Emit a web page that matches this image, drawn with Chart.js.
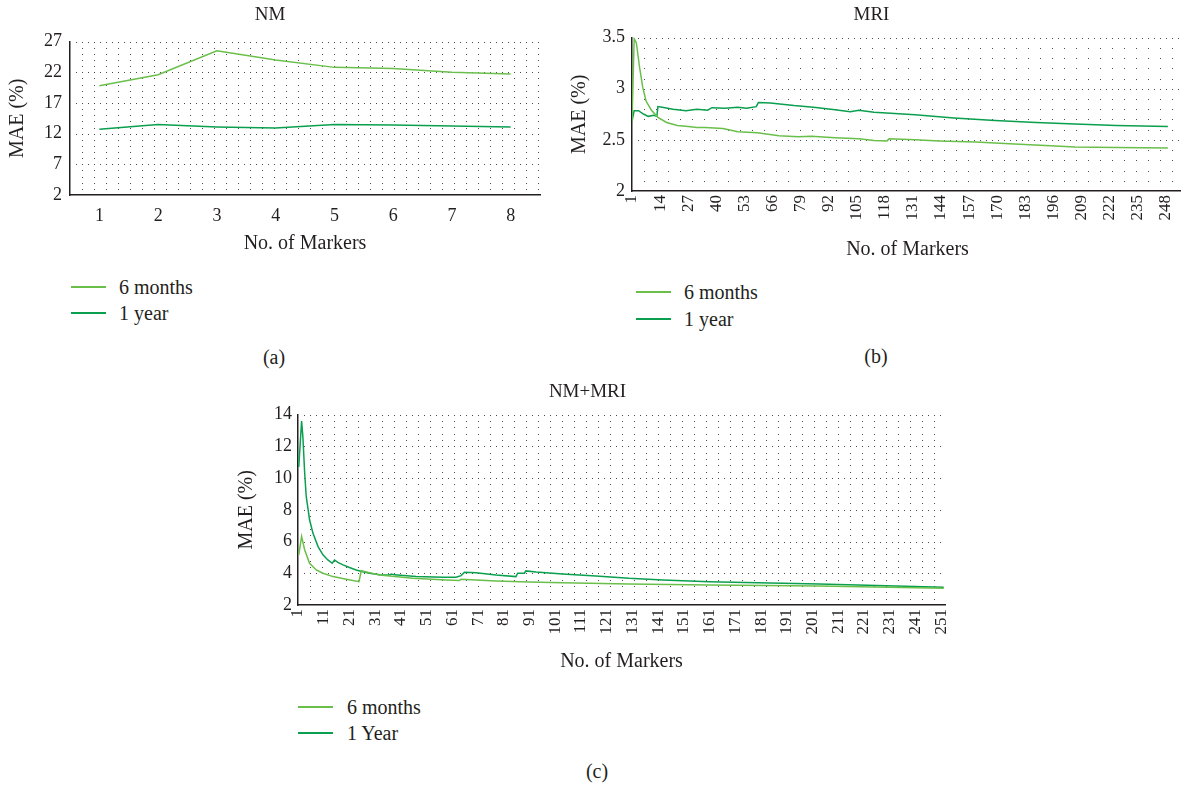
<!DOCTYPE html>
<html>
<head>
<meta charset="utf-8">
<script src="https://cdn.jsdelivr.net/npm/chart.js@4"></script>
<style>
  html, body { margin: 0; padding: 0; overflow: hidden; background: #fff; }
  body { width: 1181px; height: 786px; position: relative; font-family: "Liberation Serif", "DejaVu Serif", serif; color: #231f20; }
  canvas { position: absolute; }
  .leg { position: absolute; font-size: 20px; line-height: 20px; }
  .leg .row { position: absolute; white-space: nowrap; }
  .leg .sw { position: absolute; height: 1.5px; width: 35px; }
  .cap { position: absolute; font-size: 20px; line-height: 20px; transform: translateX(-50%); }
</style>
</head>
<body>
<canvas id="nmChart" width="574" height="260" style="left:0;top:0"></canvas>
<canvas id="mriChart" width="648" height="266" style="left:560px;top:0"></canvas>
<canvas id="bothChart" width="784" height="298" style="left:230px;top:380px"></canvas>
<div class="cap" style="left:274px;top:347px">(a)</div>
<div class="cap" style="left:876px;top:346px">(b)</div>
<div class="cap" style="left:597px;top:761px">(c)</div>
<script>
// * data NM
const nmLabels = ["1", "2", "3", "4", "5", "6", "7", "8"];
const nm6m = [19.8, 21.6, 25.5, 24.0, 22.8, 22.6, 22.0, 21.7];
const nm1y = [12.7, 13.5, 13.1, 12.9, 13.5, 13.4, 13.25, 13.1];

// * data MRI
const mriTicks = [1, 14, 27, 40, 53, 66, 79, 92, 105, 118, 131, 144, 157, 170, 183, 196, 209, 222, 235, 248];
const mri6mX = [1, 2, 3, 4.5, 6, 7.5, 10, 13, 17, 22, 27, 31, 35, 43, 50, 59, 69, 78, 84, 95, 106, 113, 119, 120, 132, 143, 160, 178, 197, 206, 225, 249];
const mri6mY = [2.68, 3.49, 3.45, 3.21, 3.01, 2.88, 2.79, 2.72, 2.67, 2.64, 2.63, 2.62, 2.62, 2.61, 2.58, 2.57, 2.54, 2.53, 2.535, 2.52, 2.51, 2.495, 2.49, 2.51, 2.50, 2.49, 2.48, 2.46, 2.44, 2.43, 2.425, 2.42];
const mri1yX = [1, 2, 4, 6.5, 8.5, 11, 12.5, 13, 15, 20, 26, 31, 36, 38, 44, 50, 54, 58.5, 59.5, 65, 76, 85, 95, 102, 106, 113, 132, 150, 169, 188, 206, 225, 249];
const mri1yY = [2.68, 2.785, 2.785, 2.75, 2.73, 2.74, 2.73, 2.825, 2.82, 2.80, 2.785, 2.80, 2.79, 2.815, 2.81, 2.82, 2.81, 2.825, 2.865, 2.86, 2.835, 2.82, 2.795, 2.775, 2.79, 2.77, 2.745, 2.715, 2.69, 2.67, 2.655, 2.64, 2.63];

// * data NM+MRI
const bothTicks = [1, 11, 21, 31, 41, 51, 61, 71, 81, 91, 101, 111, 121, 131, 141, 151, 161, 171, 181, 191, 201, 211, 221, 231, 241, 251];
const both6mX = [1.3, 2.4, 3.6, 5.5, 8.1, 10.7, 14.6, 19.8, 24.7, 25.6, 28.8, 32.7, 45.6, 58.6, 63.7, 64.4, 78, 90.9, 103.8, 129.7, 160.8, 203.6, 252];
const both6mY = [5.16, 6.32, 5.47, 4.63, 4.21, 4.0, 3.79, 3.62, 3.47, 4.16, 4.04, 3.89, 3.68, 3.58, 3.54, 3.62, 3.52, 3.45, 3.41, 3.33, 3.26, 3.2, 3.05];
const both1yX = [1.3, 2.4, 2.9, 3.6, 4.2, 5.5, 6.8, 8.8, 10.7, 12.6, 14.3, 15.2, 16.5, 18.5, 21, 23.6, 26.2, 28.8, 32.7, 36.6, 37.3, 38.5, 46.9, 57.3, 62.4, 64.4, 65.7, 70.2, 78, 85.7, 86.4, 89, 89.6, 93.5, 103.8, 116.8, 129.7, 142.7, 160.8, 203.6, 252];
const both1yY = [10.7, 13.6, 12.6, 10.3, 8.84, 7.37, 6.53, 5.68, 5.16, 4.84, 4.63, 4.84, 4.69, 4.53, 4.36, 4.21, 4.1, 4.0, 3.9, 3.89, 3.95, 3.9, 3.79, 3.75, 3.75, 3.85, 4.06, 4.04, 3.89, 3.79, 4.0, 4.0, 4.15, 4.08, 3.96, 3.83, 3.68, 3.58, 3.47, 3.33, 3.12];

const color6m = "#6abf4b";
const color1y = "#0a9f4e";
const ink = "#231f20";

Chart.defaults.font.family = '"Liberation Serif", "DejaVu Serif", serif';
Chart.defaults.color = ink;

// ? dotted grid like the original (minor rows sparse, major rows denser)
const dotGrid = {
  id: "dotGrid",
  beforeDatasetsDraw(chart, args, opts) {
    const { ctx, chartArea: a } = chart;
    const y = chart.scales.y;
    const n = Math.round((y.max - y.min) / opts.minor);
    ctx.save();
    ctx.fillStyle = "#4a4a4a";
    for (let i = 1; i <= n; i++) {
      const py = Math.round(y.getPixelForValue(y.min + i * opts.minor));
      const step = i % opts.every === 0 ? 6 : 12;
      for (let px = a.left + step; px < a.right; px += step) {
        ctx.fillRect(Math.round(px), py, 1, 1);
      }
    }
    ctx.restore();
  },
};

const toPoints = (xs, ys) => xs.map((x, i) => ({ x: x, y: ys[i] }));

function lineSet(label, data, color) {
  return { label: label, data: data, borderColor: color, borderWidth: 1.5, pointRadius: 0, fill: false };
}

function makeOptions(o) {
  const border = { display: true, color: ink, width: 1.5 };
  const x = {
    grid: { display: false, drawTicks: false },
    border: border,
    ticks: { font: { size: o.xFont }, padding: o.xPad, autoSkip: false },
    title: { display: true, text: "No. of Markers", font: { size: 20 }, padding: { top: 4, bottom: 4 } },
    afterFit: (s) => { s.height = o.xHeight; },
  };
  if (o.xTicks) {
    x.type = "linear";
    x.min = 1;
    x.max = o.xMax;
    x.afterBuildTicks = (s) => { s.ticks = o.xTicks.map((v) => ({ value: v })); };
    x.ticks.minRotation = 90;
    x.ticks.maxRotation = 90;
  } else {
    x.offset = true;
  }
  return {
    responsive: false,
    animation: false,
    layout: { padding: { left: 0, right: o.right, top: 0, bottom: 0 } },
    plugins: {
      legend: { display: false },
      tooltip: { enabled: false },
      title: { display: true, text: o.title, font: { size: 19, weight: "normal" }, padding: o.titlePad },
      dotGrid: { minor: o.minor, every: o.every },
    },
    scales: {
      x: x,
      y: {
        min: o.yMin,
        max: o.yMax,
        grid: { display: false, drawTicks: false },
        border: border,
        ticks: {
          stepSize: o.yStep,
          font: { size: 18 },
          padding: o.yPad,
          callback: (v) => String(Number(v.toFixed(2))),
        },
        title: { display: true, text: "MAE (%)", font: { size: 20 }, padding: { top: o.yTitlePad, bottom: 0 } },
        afterFit: (s) => { s.width = o.yWidth; },
      },
    },
  };
}

// * NM chart
new Chart(document.getElementById("nmChart"), {
  type: "line",
  data: {
    labels: nmLabels,
    datasets: [lineSet("6 months", nm6m, color6m), lineSet("1 year", nm1y, color1y)],
  },
  options: makeOptions({
    title: "NM", titlePad: { top: 3.6, bottom: 15.2 }, right: 34,
    yMin: 2, yMax: 27, yStep: 5, yWidth: 70, yPad: 8, yTitlePad: 6,
    minor: 1, every: 5, xHeight: 65, xFont: 18, xPad: 10,
  }),
  plugins: [dotGrid],
});

// * MRI chart
new Chart(document.getElementById("mriChart"), {
  type: "line",
  data: {
    datasets: [
      lineSet("6 months", toPoints(mri6mX, mri6mY), color6m),
      lineSet("1 year", toPoints(mri1yX, mri1yY), color1y),
    ],
  },
  options: makeOptions({
    title: "MRI", titlePad: { top: 3.6, bottom: 11.2 }, right: 25,
    yMin: 2, yMax: 3.5, yStep: 0.5, yWidth: 72, yPad: 7, yTitlePad: 8,
    minor: 0.1, every: 5, xHeight: 75, xFont: 17, xPad: 4, xTicks: mriTicks, xMax: 256,
  }),
  plugins: [dotGrid],
});

// * NM+MRI chart
new Chart(document.getElementById("bothChart"), {
  type: "line",
  data: {
    datasets: [
      lineSet("6 months", toPoints(both6mX, both6mY), color6m),
      lineSet("1 Year", toPoints(both1yX, both1yY), color1y),
    ],
  },
  options: makeOptions({
    title: "NM+MRI", titlePad: { top: 0.6, bottom: 11.2 }, right: 69,
    yMin: 2, yMax: 14, yStep: 2, yWidth: 68, yPad: 6, yTitlePad: 5,
    minor: 0.4, every: 5, xHeight: 73, xFont: 17, xPad: 4, xTicks: bothTicks, xMax: 252.5,
  }),
  plugins: [dotGrid],
});

// ? legends below each chart, built from the datasets
function addLegend(chartId, swX, textX, rows) {
  const chart = Chart.getChart(chartId);
  const box = document.createElement("div");
  box.className = "leg";
  box.style.left = "0px";
  box.style.top = "0px";
  chart.data.datasets.forEach((ds, i) => {
    const sw = document.createElement("div");
    sw.className = "sw";
    sw.style.left = swX + "px";
    sw.style.top = rows[i] - 1 + "px";
    sw.style.background = ds.borderColor;
    const row = document.createElement("div");
    row.className = "row";
    row.style.left = textX + "px";
    row.style.top = rows[i] - 10 + "px";
    row.textContent = ds.label;
    box.appendChild(sw);
    box.appendChild(row);
  });
  document.body.appendChild(box);
}
addLegend("nmChart", 71, 119, [287, 313]);
addLegend("mriChart", 636, 684, [292, 319]);
addLegend("bothChart", 298, 347, [707, 733]);
</script>
</body>
</html>
